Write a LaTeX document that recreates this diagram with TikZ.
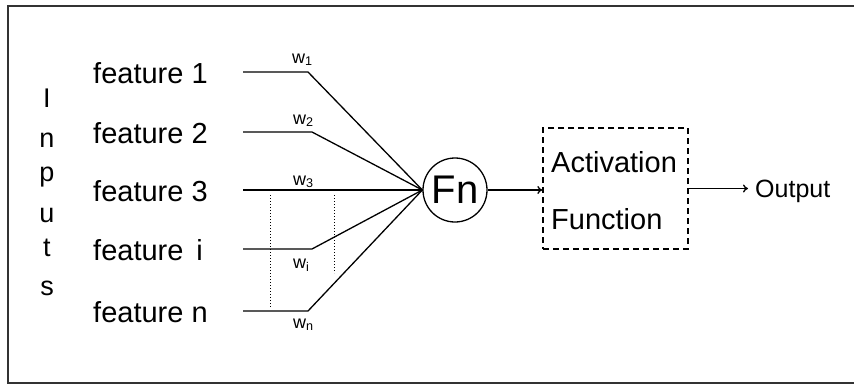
\documentclass[tikz,border=0pt]{standalone}
\usepackage{fontspec}
\setmainfont{Liberation Sans}
\usetikzlibrary{arrows.meta}
\begin{document}
\begin{tikzpicture}[x=1pt,y=-1pt,
  lbl/.style={inner sep=0pt, anchor=base west, font=\fontsize{29}{30}\selectfont},
  inp/.style={inner sep=0pt, anchor=base, font=\fontsize{27}{30}\selectfont},
  wt/.style={inner sep=0pt, anchor=base west, font=\fontsize{18}{20}\selectfont},
  wire/.style={line width=1.3pt},
  dotline/.style={line width=1pt, dotted},
  arr/.style={line width=1.3pt, -{To[length=5pt,width=8pt]}},
]
\useasboundingbox (0,0) rectangle (854,386);
\draw[line width=2.2pt, color=black!80] (870,6) -- (8,6) -- (8,383) -- (870,383);

% Inputs
\node[inp] (i1) at (47,107) {I};
\node[inp] (i2) at (47,147) {n};
\node[inp] (i3) at (47,181) {p};
\node[inp] (i4) at (47,222) {u};
\node[inp] (i5) at (47,256) {t};
\node[inp] (i6) at (47,295) {s};

% features
\node[lbl] (f1) at (93,83) {feature 1};
\node[lbl] (f2) at (93,143) {feature 2};
\node[lbl] (f3) at (93,201) {feature 3};
\node[lbl] (f4) at (93,260) {feature\, i};
\node[lbl] (f5) at (93,322) {feature n};

% neuron
\node[circle, draw, line width=1.3pt, minimum size=64pt, inner sep=0pt,
      font=\fontsize{40}{42}\selectfont] (fn) at (455,190) {Fn};

% wire coordinates
\coordinate (s1) at (243,72);  \coordinate (e1) at (308,72);
\coordinate (s2) at (243,132); \coordinate (e2) at (312,132);
\coordinate (s3) at (243,190);
\coordinate (s4) at (243,249); \coordinate (e4) at (312,249);
\coordinate (s5) at (243,311); \coordinate (e5) at (308,311);

\draw[wire] (s1) -- (e1) -- (fn.west);
\draw[wire] (s2) -- (e2) -- (fn.west);
\draw[wire] (s3) -- (fn.west);
\draw[wire] (s4) -- (e4) -- (fn.west);
\draw[wire] (s5) -- (e5) -- (fn.west);

% dotted
\coordinate (d1t) at (270,195); \coordinate (d1b) at (270,308);
\coordinate (d2t) at (334,195); \coordinate (d2b) at (334,273);
\draw[dotline] (d1t) -- (d1b);
\draw[dotline] (d2t) -- (d2b);

% weights
\node[wt] (w1) at (292,63) {w\textsubscript{1}};
\node[wt] (w2) at (293,124) {w\textsubscript{2}};
\node[wt] (w3) at (293,185) {w\textsubscript{3}};
\node[wt] (w4) at (293,268) {w\textsubscript{i}};
\node[wt] (w5) at (293,328) {w\textsubscript{n}};

% activation box
\node[draw, dash pattern=on 6pt off 4pt, line width=1.3pt, minimum width=145pt,
      minimum height=121pt, inner sep=0pt] (act) at (615.5,188.5) {};
\node[lbl] (a1) at (551,172) {Activation};
\node[lbl] (a2) at (551,229) {Function};

% output
\node[lbl, font=\fontsize{25}{30}\selectfont] (out) at (755,197) {Output};

\draw[arr] (fn.east) -- (fn.east -| act.west);
\draw[arr] (act.east) -- ([xshift=-7pt]act.east -| out.west);
\end{tikzpicture}
\end{document}
